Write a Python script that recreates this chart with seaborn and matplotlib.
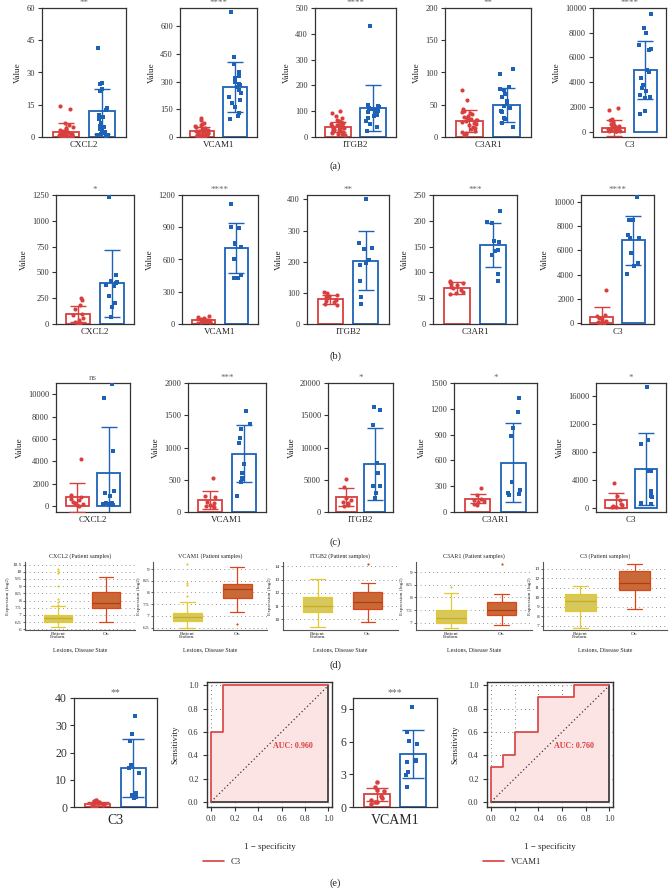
import numpy as np
import pandas as pd
import matplotlib
matplotlib.use("Agg")
import matplotlib.pyplot as plt
import seaborn as sns

sns.set_theme(style="white")
plt.rcParams['font.family'] = ['Liberation Serif', 'DejaVu Serif']
plt.rcParams['ytick.left'] = True
plt.rcParams['xtick.bottom'] = True
np.random.seed(7)

RED = "#d8403f"
BLUE = "#1d62b6"
YEL = "#ead848"
YEL_E = "#e3c92c"
ORG = "#e0621f"
ORG_E = "#d9461c"
PINK = "#fde4e4"
FRAME = "#333333"

GROUPS = ["Control", "Disease"]

# ---------------- data: row (a) ----------------
a_genes = ["CXCL2", "VCAM1", "ITGB2", "C3AR1", "C3"]
a_sig = ["**", "****", "****", "**", "****"]
a_means = [[2.5, 12], [30, 270], [40, 112], [25, 50], [300, 5000]]
a_sds = [[4, 10.5], [25, 137], [20, 90], [17, 26], [620, 2350]]
a_red = [
    [14.5, 13.2, 6.5, 5.5, 4.8, 4.2, 3.6, 3.2, 2.9, 2.6, 2.3, 2.0, 1.8, 1.6, 1.4,
     1.2, 1.0, 0.9, 0.8, 0.7, 0.6, 0.5, 0.4, 0.35, 0.3, 0.25, 0.2, 0.15, 0.1, 0.05],
    [105, 92, 78, 72, 66, 60, 55, 50, 46, 42, 38, 35, 32, 30, 28, 25, 22, 20, 18,
     16, 14, 12, 10, 9, 8, 6, 5, 4, 3, 2],
    [100, 92, 80, 72, 66, 62, 58, 55, 52, 50, 48, 46, 44, 42, 40, 38, 36, 34, 32,
     30, 28, 26, 24, 22, 20, 18, 15, 12, 10, 8],
    [73, 58, 43, 41, 39, 37, 35, 33, 31, 29, 28, 27, 26, 25, 24, 22, 20, 18, 16,
     14, 12, 10, 8, 6, 4, 3],
    [1900, 1750, 1050, 950, 750, 600, 500, 420, 380, 340, 300, 260, 220, 180, 150,
     120, 100, 80, 60, 40, 30, 20],
]
a_blue = [
    [41.5, 25, 24.5, 22.5, 21.5, 13.5, 12.5, 10, 9.5, 8.5, 6.5, 5, 4.5, 3.5, 3,
     2.5, 1.5, 1, 0.8, 0.5],
    [680, 435, 395, 355, 330, 322, 300, 290, 280, 270, 255, 240, 215, 200, 185,
     165, 130, 115, 100],
    [430, 125, 122, 118, 112, 108, 104, 100, 96, 90, 85, 80, 72, 62, 52, 40, 25],
    [105, 98, 77, 75, 73, 66, 62, 56, 52, 48, 45, 40, 38, 30, 28, 22, 16],
    [9500, 8400, 8000, 7000, 6650, 6600, 5000, 4800, 4350, 3800, 3500, 3300, 3000,
     2800, 2700, 1700, 1400],
]
a_yticks = [[0, 15, 30, 45, 60], [0, 150, 300, 450, 600], [0, 100, 200, 300, 400, 500],
            [0, 50, 100, 150, 200], [0, 2000, 4000, 6000, 8000, 10000]]

# ---------------- data: row (b) ----------------
b_genes = ["CXCL2", "VCAM1", "ITGB2", "C3AR1", "C3"]
b_sig = ["*", "****", "**", "***", "****"]
b_means = [[95, 395], [35, 705], [79, 203], [70, 153], [543, 6820]]
b_sds = [[80, 325], [15, 232], [14, 95], [12, 43], [820, 2010]]
b_red = [
    [250, 232, 180, 150, 100, 90, 60, 40, 22, 12, 8],
    [75, 62, 55, 50, 45, 40, 35, 30, 25, 20, 15],
    [103, 98, 94, 90, 86, 82, 78, 75, 70, 65, 60],
    [84, 82, 80, 78, 75, 72, 70, 66, 62, 60, 58],
    [2720, 710, 600, 450, 350, 220, 150, 80, 40, 10],
]
b_blue = [
    [1235, 470, 420, 410, 400, 380, 370, 270, 200, 160, 70],
    [1117, 905, 895, 750, 745, 720, 605, 460, 430, 425],
    [401, 260, 243, 240, 206, 197, 189, 138, 86, 63],
    [219, 198, 196, 161, 158, 144, 142, 133, 97, 84],
    [10350, 8520, 8480, 7280, 7050, 6980, 5790, 4970, 4700, 4020],
]
b_yticks = [[0, 250, 500, 750, 1000, 1250], [0, 300, 600, 900, 1200],
            [0, 100, 200, 300, 400], [0, 50, 100, 150, 200, 250],
            [0, 2000, 4000, 6000, 8000, 10000]]

# ---------------- data: row (c) ----------------
c_genes = ["CXCL2", "VCAM1", "ITGB2", "C3AR1", "C3"]
c_sig = ["ns", "***", "*", "*", "*"]
c_means = [[760, 2940], [187, 902], [2380, 7400], [155, 572], [1045, 5555]]
c_sds = [[1270, 4150], [145, 440], [1400, 5600], [50, 460], [1045, 5125]]
c_red = [
    [4210, 950, 820, 650, 500, 350, 250, 150, 80, 20],
    [534, 254, 238, 160, 135, 110, 98, 93, 83],
    [5080, 3940, 2120, 1865, 1600, 1350, 1090, 930],
    [282, 193, 155, 139, 128, 120, 97, 81],
    [3514, 1662, 1140, 570, 332, 190, 100, 50],
]
c_blue = [
    [10900, 9650, 4900, 1300, 1150, 900, 300, 250, 200, 150, 100],
    [1570, 1363, 1290, 1155, 1067, 746, 601, 523, 508, 471, 249],
    [16270, 15850, 13420, 7560, 6000, 4100, 4080, 2900, 2120],
    [1326, 1160, 978, 889, 348, 251, 224, 213, 213, 193],
    [17280, 9690, 9120, 5320, 5220, 2330, 2230, 1660, 1520, 660, 475],
]
c_yticks = [[0, 2000, 4000, 6000, 8000, 10000], [0, 500, 1000, 1500, 2000],
            [0, 5000, 10000, 15000, 20000], [0, 300, 600, 900, 1200, 1500],
            [0, 4000, 8000, 12000, 16000]]

# ---------------- data: row (d) box plots (min, q1, median, q3, max) ----------------
d_titles = ["CXCL2 (Patient samples)", "VCAM1 (Patient samples)", "ITGB2 (Patient samples)",
            "C3AR1 (Patient samples)", "C3 (Patient samples)"]
d_states = ["Patient\nEndom.", "Ov."]
d_endo = [[6.15, 6.5, 6.77, 6.97, 7.6], [6.5, 6.78, 6.96, 7.13, 7.6],
          [9.4, 10.55, 11.0, 11.7, 13.05], [6.8, 6.97, 7.17, 7.49, 8.17],
          [6.8, 8.5, 9.6, 10.35, 11.15]]
d_ov = [[6.5, 7.45, 7.8, 8.6, 9.65], [7.15, 7.76, 8.15, 8.37, 9.08],
        [9.8, 10.75, 11.3, 12.05, 12.75], [6.9, 7.29, 7.49, 7.82, 8.14],
        [8.8, 10.7, 11.5, 12.8, 13.45]]
d_endo_out = [[7.7, 7.9, 8.1, 9.0, 9.9, 10.05, 10.2], [7.85, 8.3, 8.4, 9.2], [], [8.4], []]
d_ov_out = [[], [6.65], [14.2], [9.33], []]
d_yticks = [[6, 6.5, 7, 7.5, 8, 8.5, 9, 9.5, 10, 10.5], [6.5, 7, 7.5, 8, 8.5, 9],
            [10, 11, 12, 13, 14], [7, 7.5, 8, 8.5, 9], [7, 8, 9, 10, 11, 12, 13]]

# ---------------- data: row (e) ----------------
e_genes = ["C3", "VCAM1"]
e_sig = ["**", "***"]
e_means = [[1.1, 14.2], [1.17, 4.9]]
e_sds = [[0.9, 10.6], [0.6, 2.2]]
e_red = [[2.6, 2.3, 2.0, 1.6, 1.3, 1.0, 0.8, 0.5, 0.3, 0.1],
         [2.3, 1.8, 1.6, 1.5, 1.0, 0.8, 0.66, 0.5, 0.42, 0.3]]
e_blue = [[33.3, 26.7, 24.3, 15.3, 14.2, 12.6, 5.3, 4.3, 3.6, 3.3],
          [9.2, 6.9, 6.1, 5.8, 4.3, 4.2, 4.1, 3.2, 2.9, 1.86]]
e_yticks = [[0, 10, 20, 30, 40], [0, 3, 6, 9]]
roc_fpr = [[0, 0, 0.1, 0.1, 1],
           [0, 0, 0.1, 0.1, 0.2, 0.2, 0.4, 0.4, 0.7, 0.7, 1]]
roc_tpr = [[0, 0.6, 0.6, 1, 1],
           [0, 0.3, 0.3, 0.4, 0.4, 0.6, 0.6, 0.9, 0.9, 1, 1]]
roc_auc = ["AUC: 0.960", "AUC: 0.760"]

# ---------------- layout helpers ----------------
W, H = 670, 888
fig = plt.figure(figsize=(W / 100, H / 100), dpi=100)


def add_ax(l, t, r, b):
    return fig.add_axes([l / W, 1 - b / H, (r - l) / W, (b - t) / H])


def frame(ax, sides=("left", "right", "top", "bottom"), lw=0.9):
    for k, s in ax.spines.items():
        s.set_visible(k in sides)
        s.set_color(FRAME)
        s.set_linewidth(lw)


def bar_panel(ax, gene, means, sds, red_pts, blue_pts, sig, ylim, yticks,
              tick_fs=6, lab_fs=6.5, ylabel="Value", capsize=6, msize=3, sig_fs=6.5):
    sns.barplot(x=GROUPS, y=means, hue=GROUPS, palette=[RED, BLUE], fill=False,
                width=0.72, linewidth=1.3, errorbar=None, legend=False, ax=ax)
    for i, (m, s, c) in enumerate(zip(means, sds, [RED, BLUE])):
        ax.errorbar(i, m, yerr=s, fmt="none", ecolor=c, elinewidth=1.0,
                    capsize=capsize, capthick=1.0, zorder=3)
    sns.stripplot(x=[GROUPS[0]] * len(red_pts), y=red_pts, order=GROUPS, color=RED,
                  marker="o", size=msize, jitter=0.2, linewidth=0, ax=ax, zorder=4)
    sns.stripplot(x=[GROUPS[1]] * len(blue_pts), y=blue_pts, order=GROUPS, color=BLUE,
                  marker="s", size=msize, jitter=0.2, linewidth=0, ax=ax, zorder=4)
    ax.set_xlim(-0.66, 1.66)
    ax.set_ylim(*ylim)
    ax.set_yticks(yticks)
    ax.set_yticklabels([f"{t:g}" for t in yticks], fontsize=tick_fs)
    ax.set_xticks([0.5])
    ax.set_xticklabels([gene], fontsize=lab_fs)
    ax.tick_params(axis="x", length=0, pad=3)
    ax.tick_params(axis="y", length=3, width=0.8, pad=2, direction="out", colors=FRAME)
    ax.set_xlabel("")
    ax.set_ylabel(ylabel, fontsize=lab_fs, labelpad=3)
    ax.set_title(sig, fontsize=sig_fs, color="#666666", pad=2)
    frame(ax)


def box_panel(ax, title, endo, ov, endo_out, ov_out, ylim, yticks):
    ax.yaxis.grid(True, linestyle=(0, (1, 4)), color="#777777", linewidth=0.6)
    ax.set_axisbelow(True)
    for vals, outs, state, fc, ec, mc in [(endo, endo_out, d_states[0], YEL, YEL_E, "#c9ad1e"),
                                           (ov, ov_out, d_states[1], ORG, ORG_E, "#b83a10")]:
        sns.boxplot(x=[state] * len(vals), y=vals, order=d_states, color=fc, linecolor=ec,
                    whis=(0, 100), width=0.58, linewidth=0.9, showfliers=False,
                    medianprops={"color": mc, "linewidth": 0.9}, ax=ax)
        if outs:
            sns.stripplot(x=[state] * len(outs), y=outs, order=d_states, color=ec,
                          jitter=False, size=1.6, linewidth=0, ax=ax)
    ax.set_xlim(-0.69, 1.6)
    ax.set_ylim(*ylim)
    ax.set_yticks(yticks)
    ax.set_yticklabels([f"{t:g}" for t in yticks], fontsize=3.8)
    ax.tick_params(axis="x", labelsize=3.8, length=0, pad=1.5)
    ax.tick_params(axis="y", length=1.5, width=0.5, pad=1)
    for lab in ax.get_xticklabels():
        lab.set_linespacing(0.75)
    ax.set_title(title, fontsize=4.3, pad=3)
    ax.set_ylabel("Expression (log2)", fontsize=3.8, labelpad=1.5)
    ax.set_xlabel("Lesions, Disease State", fontsize=4.3, labelpad=6)
    frame(ax, sides=("left", "bottom"), lw=0.8)
    ax.spines["left"].set_color("#555555")
    ax.spines["bottom"].set_color("#555555")


def roc_panel(ax, fpr, tpr, auc, label):
    ax.set_xlim(-0.035, 1.03)
    ax.set_ylim(-0.045, 1.03)
    ax.grid(True, linestyle=(0, (1, 4)), color="#555555", linewidth=0.6)
    ax.set_axisbelow(True)
    ax.fill_between(fpr, tpr, 0, color=PINK, zorder=2)
    ax.plot([fpr[0], fpr[-1], fpr[-1]], [tpr[0], tpr[0], tpr[-1]], color=FRAME, lw=1.2, zorder=3)
    ax.plot([fpr[0], fpr[-1]], [tpr[0], tpr[-1]], color=FRAME, ls=(0, (1, 2)), lw=0.9, zorder=3)
    sns.lineplot(x=fpr, y=tpr, sort=False, estimator=None, color=RED, lw=1.2,
                 ax=ax, label=label, zorder=4)
    ax.text(0.53, 0.46, auc, color=RED, fontsize=5.8, fontweight="bold", zorder=5)
    ticks = [0, 0.2, 0.4, 0.6, 0.8, 1.0]
    ax.set_xticks(ticks)
    ax.set_yticks(ticks)
    ax.set_xticklabels([f"{t:.1f}" for t in ticks], fontsize=6)
    ax.set_yticklabels([f"{t:.1f}" for t in ticks], fontsize=6)
    ax.tick_params(length=3, width=0.8, pad=3, direction="out", colors=FRAME)
    ax.set_xlabel("1 − specificity", fontsize=6.5, labelpad=14)
    ax.set_ylabel("Sensitivity", fontsize=6.5, labelpad=6)
    frame(ax, lw=1.0)
    ax.legend(loc="upper left", bbox_to_anchor=(-0.06, -0.38), frameon=False,
              fontsize=6.2, handlelength=2.4, borderaxespad=0)


# ---------------- row (a) ----------------
a_pos = [(42, 126), (180, 257), (315, 396), (445, 531), (593, 666)]
a_ylim = [(0, 60), (0, 700), (0, 500), (0, 200), (-430, 10000)]
for i, (l, r) in enumerate(a_pos):
    ax = add_ax(l, 8, r, 137)
    bar_panel(ax, a_genes[i], a_means[i], a_sds[i], a_red[i], a_blue[i], a_sig[i],
              a_ylim[i], a_yticks[i])

# ---------------- row (b) ----------------
b_pos = [(56, 134), (182, 258), (307, 389), (433, 517), (581, 654)]
b_ylim = [(0, 1250), (0, 1200), (0, 414), (0, 250), (-60, 10550)]
for i, (l, r) in enumerate(b_pos):
    ax = add_ax(l, 195, r, 324)
    bar_panel(ax, b_genes[i], b_means[i], b_sds[i], b_red[i], b_blue[i], b_sig[i],
              b_ylim[i], b_yticks[i])

# ---------------- row (c) ----------------
c_pos = [(56, 130), (188, 266), (328, 393), (454, 537), (596, 666)]
c_ylim = [(-545, 11030), (0, 2000), (0, 20000), (0, 1500), (-617, 17900)]
for i, (l, r) in enumerate(c_pos):
    ax = add_ax(l, 383, r, 512)
    bar_panel(ax, c_genes[i], c_means[i], c_sds[i], c_red[i], c_blue[i], c_sig[i],
              c_ylim[i], c_yticks[i])

# ---------------- row (d) ----------------
d_pos = [(25, 135), (153, 267), (283, 398), (416, 532), (543, 667)]
d_ylim = [(5.95, 10.68), (6.4, 9.3), (9.19, 14.33), (6.71, 9.4), (6.54, 13.7)]
for i, (l, r) in enumerate(d_pos):
    ax = add_ax(l, 562, r, 630)
    box_panel(ax, d_titles[i], d_endo[i], d_ov[i], d_endo_out[i], d_ov_out[i],
              d_ylim[i], d_yticks[i])

# ---------------- row (e) ----------------
e_pos = [(74, 157), (353, 437)]
e_ylim = [(0, 40), (0, 10)]
roc_pos = [(207, 332), (487, 613)]
for i in range(2):
    ax = add_ax(e_pos[i][0], 698, e_pos[i][1], 807)
    bar_panel(ax, e_genes[i], e_means[i], e_sds[i], e_red[i], e_blue[i], e_sig[i],
              e_ylim[i], e_yticks[i], tick_fs=8.5, lab_fs=10, ylabel="", capsize=8,
              msize=3.3, sig_fs=7)
    ax.tick_params(axis="x", pad=5)
    rax = add_ax(roc_pos[i][0], 682, roc_pos[i][1], 807)
    roc_panel(rax, roc_fpr[i], roc_tpr[i], roc_auc[i], e_genes[i])

# ---------------- panel letters ----------------
for lab, y in [("(a)", 166), ("(b)", 356), ("(c)", 542), ("(d)", 665), ("(e)", 883)]:
    fig.text(335 / W, 1 - y / H, lab, ha="center", va="center", fontsize=7.5)

fig.savefig("out.png", dpi=100)
